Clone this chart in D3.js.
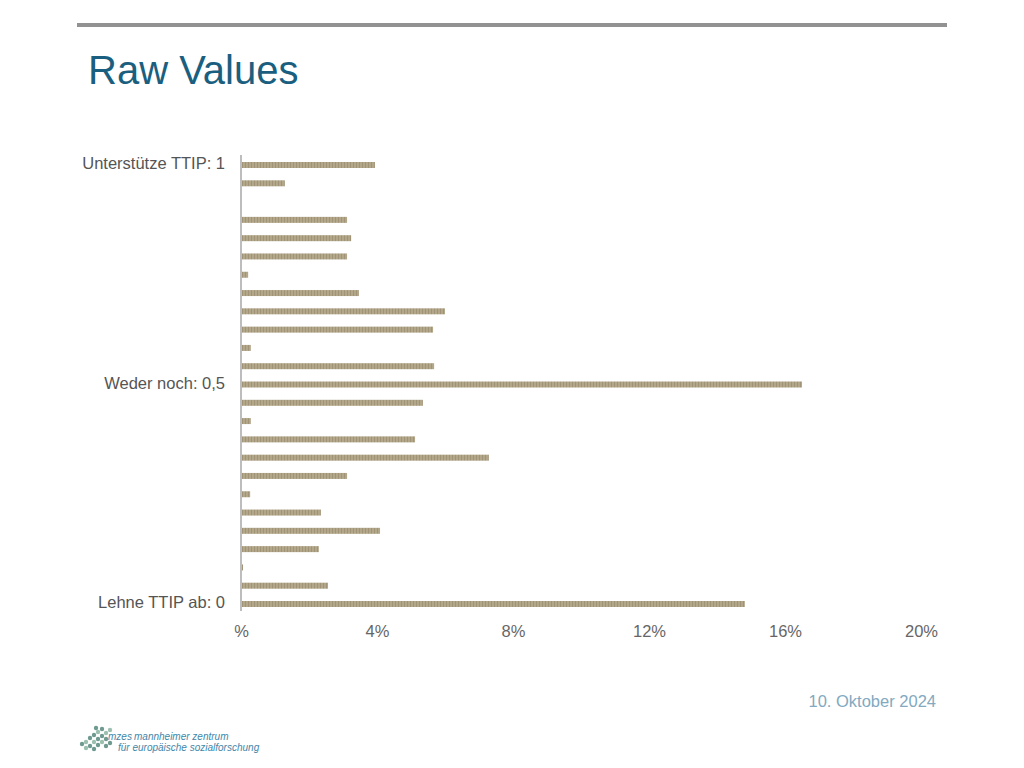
<!DOCTYPE html>
<html><head><meta charset="utf-8">
<script src="https://cdn.jsdelivr.net/npm/d3@7/dist/d3.min.js"></script>
<style>body{margin:0;background:#fff;}svg{display:block;font-family:"Liberation Sans",Arial,sans-serif;}</style>
</head><body>
<svg id="c" width="1024" height="768"></svg>
<script>
// Categories from 1 (top) down to 0 (bottom), 25 rows
const categories = d3.range(25).map(i => +(1 - i / 24).toFixed(4));
const values = [3.91, 1.26, 0, 3.09, 3.21, 3.09, 0.18, 3.44, 5.97, 5.62, 0.26, 5.65, 16.47,
                5.32, 0.26, 5.09, 7.26, 3.09, 0.24, 2.32, 4.06, 2.26, 0.03, 2.53, 14.79];
const yLabels = [{v: 1, t: "Unterstütze TTIP: 1"}, {v: 0.5, t: "Weder noch: 0,5"}, {v: 0, t: "Lehne TTIP ab: 0"}];
const xTicks = [0, 4, 8, 12, 16, 20];
const xTickLabels = ["%", "4%", "8%", "12%", "16%", "20%"];

const svg = d3.select("#c");
const defs = svg.append("defs");
const pat = defs.append("pattern").attr("id", "stripe").attr("patternUnits", "userSpaceOnUse")
  .attr("width", 3).attr("height", 6);
pat.append("rect").attr("width", 3).attr("height", 6).attr("fill", "#b3a78a");
pat.append("rect").attr("x", 2).attr("width", 1).attr("height", 6).attr("fill", "#a19377");

// header rule and title
svg.append("rect").attr("x", 77).attr("y", 23).attr("width", 870).attr("height", 4).attr("fill", "#929292");
svg.append("text").attr("x", 88).attr("y", 84).attr("font-size", 40).attr("fill", "#1b5f80").text("Raw Values");

const x = d3.scaleLinear().domain([0, 20]).range([241, 921]);
const y = d3.scaleLinear().domain([1, 0]).range([165, 604]);
const bh = 6;

svg.append("g").selectAll("rect").data(values).join("rect")
  .attr("x", x(0) + 1)
  .attr("y", (d, i) => y(categories[i]) - bh / 2)
  .attr("width", d => Math.max(0, x(d) - x(0)))
  .attr("height", bh)
  .attr("fill", "url(#stripe)");

// y axis line
svg.append("line").attr("x1", 241).attr("x2", 241).attr("y1", 155).attr("y2", 611)
  .attr("stroke", "#bdbdbd").attr("stroke-width", 2);

svg.append("g").selectAll("text").data(yLabels).join("text")
  .attr("x", 225).attr("y", d => y(d.v) + 4)
  .attr("text-anchor", "end").attr("font-size", 16.5).attr("fill", "#555")
  .text(d => d.t);

const xAxis = d3.axisBottom(x).tickValues(xTicks).tickSize(0).tickFormat((d, i) => xTickLabels[i]);
const gx = svg.append("g").attr("transform", "translate(0,622)").call(xAxis);
gx.select(".domain").remove();
gx.selectAll("text").attr("font-size", 16.5).attr("fill", "#666").attr("font-family", "Liberation Sans, Arial, sans-serif");

// date
svg.append("text").attr("x", 936).attr("y", 707).attr("text-anchor", "end")
  .attr("font-size", 16.5).attr("fill", "#82a9bf").text("10. Oktober 2024");

// logo approximation
const lg = svg.append("g");
const dots = [[86,742],[90,738],[94,735],[98,732],[102,729],[90,746],[94,742],[98,739],[102,736],[106,733],[94,749],[98,745],[102,742],[106,739],[110,743],[86,748],[82,744],[106,746],[110,730],[96,728]];
lg.selectAll("circle").data(dots).join("circle").attr("cx", d => d[0]).attr("cy", d => d[1]).attr("r", 2.2)
  .attr("fill", (d, i) => i % 3 === 0 ? "#9cc0b0" : "#6f9a90");
lg.append("text").attr("x", 108).attr("y", 740).attr("font-size", 10).attr("font-style", "italic").attr("fill", "#3f86a8").text("mzes");
lg.append("text").attr("x", 134).attr("y", 740).attr("font-size", 10).attr("font-style", "italic").attr("fill", "#3f86a8").text("mannheimer zentrum");
lg.append("text").attr("x", 118).attr("y", 751).attr("font-size", 10).attr("font-style", "italic").attr("fill", "#3f86a8").text("für europäische sozialforschung");
</script>
</body></html>
